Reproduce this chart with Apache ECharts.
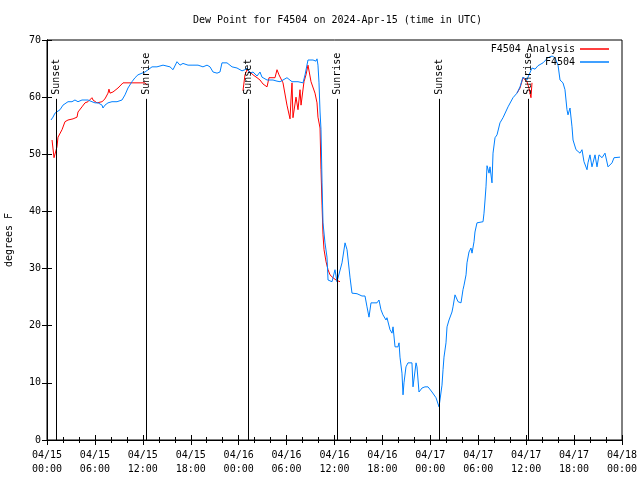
<!DOCTYPE html>
<html>
<head>
<meta charset="utf-8">
<script src="https://cdn.jsdelivr.net/npm/echarts@6/dist/echarts.min.js"></script>
<style>html,body{margin:0;padding:0;background:#fff}#c{width:640px;height:480px}</style>
</head>
<body>
<div id="c"></div>
<script>
// Hours after 2024-04-15 00:00 UTC, dew point in degrees F
const blueHours = [0.50,0.75,1.0,1.25,1.63,2.0,2.63,3.13,3.5,3.88,4.38,4.76,5.13,5.63,6.01,6.39,6.89,7.01,7.26,7.64,8.14,8.77,9.39,9.77,10.14,10.64,11.02,11.39,11.9,12.27,13.15,13.77,14.53,15.4,15.78,16.28,16.65,17.03,17.66,18.28,18.91,19.53,20.04,20.41,20.79,21.29,21.66,21.91,22.54,23.17,23.79,24.42,24.79,25.05,25.42,25.8,26.3,26.67,26.92,27.55,28.3,28.8,29.18,30.05,30.68,31.43,32.06,32.31,32.68,33.31,33.68,33.81,33.93,34.06,34.19,34.31,34.44,34.56,34.81,35.06,35.19,35.69,36.06,36.31,36.44,36.94,37.32,37.57,37.94,38.19,38.82,39.44,39.82,40.07,40.32,40.57,41.32,41.57,41.82,42.07,42.45,42.57,42.95,43.2,43.33,43.58,43.95,44.08,44.2,44.45,44.58,44.7,44.95,45.2,45.7,45.83,46.21,46.33,46.58,46.96,47.33,47.71,48.21,48.71,49.09,49.21,49.46,49.59,49.71,49.96,50.09,50.34,50.71,50.84,51.09,51.47,51.84,52.09,52.22,52.47,52.59,52.84,53.09,53.22,53.47,53.59,53.84,54.6,54.72,54.85,54.97,55.1,55.35,55.47,55.72,55.85,56.1,56.35,56.72,57.1,57.73,58.35,58.85,59.23,59.6,60.1,60.23,60.73,61.11,61.48,62.11,62.73,63.24,63.61,63.99,64.24,64.61,64.86,65.11,65.24,65.49,65.74,65.87,66.24,66.74,66.99,67.24,67.62,67.74,67.99,68.24,68.37,68.62,68.87,69.12,69.5,69.87,70.25,70.75,71.0,71.75];
const blueDew = [56.0,56.5,57.2,57.4,57.8,58.6,59.2,59.2,59.5,59.2,59.5,59.5,59.5,59.2,59.0,59.0,58.6,58.1,58.6,59.0,59.2,59.2,59.5,60.4,61.6,62.7,63.4,63.9,64.2,64.4,65.3,65.3,65.6,65.3,64.8,66.2,65.6,65.9,65.6,65.6,65.6,65.3,65.6,65.3,64.4,64.2,64.4,66.0,66.0,65.3,65.1,64.6,64.8,65.1,64.2,64.4,63.7,64.4,63.5,63.0,63.0,62.8,62.7,63.4,62.7,62.7,62.5,63.9,66.5,66.5,66.3,66.7,65.6,62.5,57.4,54.3,45.0,38.0,34.5,32.0,28.0,27.7,29.8,27.7,27.7,31.0,34.5,33.3,28.5,25.7,25.6,25.2,25.2,23.3,21.5,24.0,24.0,24.5,22.8,21.9,21.0,21.4,19.3,18.7,19.8,16.3,16.3,17.0,14.5,11.7,7.9,10.0,12.8,13.5,13.5,9.3,13.5,12.8,8.4,9.1,9.3,9.3,8.4,7.4,5.8,5.8,9.6,12.3,14.5,17.0,19.8,21.0,22.4,23.3,25.4,24.2,24.0,26.3,27.1,28.9,31.0,32.9,33.6,32.7,34.7,36.4,38.0,38.2,39.7,42.0,44.3,48.0,46.7,47.8,45.0,50.2,52.9,53.4,55.5,56.4,58.3,59.9,60.7,61.8,63.5,63.0,63.5,65.1,64.9,65.5,66.0,66.9,67.2,66.9,65.6,63.0,62.5,61.3,57.8,56.9,58.1,54.8,52.5,50.8,50.2,50.8,48.7,47.3,48.5,49.9,47.8,48.5,49.9,47.8,49.9,49.4,50.2,47.8,48.5,49.4,49.5];

const red1Hours = [0.63,0.75,0.88,1.0,1.25,1.38,1.88,2.25,2.63,3.26,3.76,3.88,4.38,4.76,5.13,5.63,5.76,6.26,6.89,7.26,7.64,7.76,7.89,8.26,8.89,9.52,10.64,11.65,12.27,12.52];
const red1Dew = [52.5,52.5,49.4,49.5,51.3,53.0,54.3,55.7,56.0,56.2,56.5,57.4,58.3,59.0,59.2,59.9,59.5,59.0,59.2,59.7,60.7,61.4,60.7,60.9,61.6,62.5,62.5,62.5,62.5,62.1];
const red2Hours = [24.54,24.79,25.05,25.42,25.8,26.3,26.67,27.05,27.55,27.8,28.55,28.8,29.05,29.55,30.05,30.43,30.55,30.68,30.8,31.18,31.43,31.68,31.81,32.18,32.43,32.68,33.06,33.56,33.81,33.93,34.19,34.31,34.44,34.56,34.69,34.94,35.19,35.44,35.81,36.19,36.69];
const red2Dew = [61.1,63.9,64.8,64.4,63.9,63.4,63.0,62.3,61.8,63.4,63.4,64.8,63.9,62.5,58.6,56.2,59.5,62.5,56.4,60.0,57.8,61.3,58.6,62.7,63.9,65.6,62.7,60.7,59.0,56.5,54.6,47.3,41.1,35.9,33.3,31.2,29.8,28.9,28.4,28.0,27.7];
const red3Hours = [58.85,59.23,59.6,60.1,60.35,60.6,60.73];
const red3Dew = [60.7,61.6,63.4,62.7,61.6,59.9,62.5];

const eventNames = ['Sunset','Sunrise','Sunset','Sunrise','Sunset','Sunrise'];
const eventHours = [1.09,12.36,25.13,36.31,49.13,60.27];
const eventLineTop = 59.7;

const seriesBlueName = 'F4504';
const seriesRedName = 'F4504 Analysis';
const titleText = 'Dew Point for F4504 on 2024-Apr-15 (time in UTC)';
const yAxisName = 'degrees F';

const FONT = '"DejaVu Sans Mono", "Liberation Mono", monospace';
const zip = (a, b) => a.map((v, i) => [v, b[i]]);

function fmtTick(h) {
  const day = 15 + Math.floor(h / 24);
  const hr = h % 24;
  return '04/' + String(day).padStart(2, '0') + '\n' + String(hr).padStart(2, '0') + ':00';
}

const chart = echarts.init(document.getElementById('c'), null, {renderer: 'canvas'});

const xBase = {
  type: 'value', min: 0, max: 72, interval: 6,
  axisLine: {show: true, lineStyle: {color: '#000', width: 1}},
  axisTick: {show: true, inside: true, length: 5, lineStyle: {color: '#000'}},
  minorTick: {show: true, splitNumber: 3, length: 3, lineStyle: {color: '#000'}},
  splitLine: {show: false}
};
const yBase = {
  type: 'value', min: 0, max: 70, interval: 10,
  axisLine: {show: true, lineStyle: {color: '#000', width: 1}},
  axisTick: {show: true, inside: true, length: 5, lineStyle: {color: '#000'}},
  splitLine: {show: false}
};

const redStyle = {color: '#ff0000', width: 1};
function redSeries(h, v) {
  return {
    name: seriesRedName, type: 'line', data: zip(h, v), showSymbol: false, symbol: 'none',
    lineStyle: redStyle, itemStyle: {color: '#ff0000'}, z: 2
  };
}

const option = {
  animation: false,
  backgroundColor: '#fff',
  textStyle: {fontFamily: FONT},
  title: {
    text: titleText, left: 188, top: 10,
    textStyle: {fontFamily: FONT, fontSize: 10, fontWeight: 'normal', color: '#000'}
  },
  legend: [
    {data: [seriesRedName], right: 31, top: 44, itemWidth: 29, itemHeight: 1.5, icon: 'rect', align: 'right',
     textStyle: {fontFamily: FONT, fontSize: 10, color: '#000'}, itemGap: 0, padding: 0, selectedMode: false},
    {data: [seriesBlueName], right: 31, top: 57, itemWidth: 29, itemHeight: 1.5, icon: 'rect', align: 'right',
     textStyle: {fontFamily: FONT, fontSize: 10, color: '#000'}, itemGap: 0, padding: 0, selectedMode: false}
  ],
  grid: {left: 47, right: 18, top: 40, bottom: 40, containLabel: false, outerBoundsMode: 'none',
         show: true, borderColor: '#000', borderWidth: 1, backgroundColor: 'transparent'},
  xAxis: [
    Object.assign({}, xBase, {
      position: 'bottom',
      axisLabel: {show: true, margin: 8, color: '#000', fontFamily: FONT, fontSize: 10, lineHeight: 14,
        formatter: fmtTick, showMinLabel: true, showMaxLabel: true}
    }),
    Object.assign({}, xBase, {position: 'top', axisLabel: {show: false}})
  ],
  yAxis: [
    Object.assign({}, yBase, {
      position: 'left',
      name: yAxisName, nameLocation: 'middle', nameGap: 33, nameRotate: 90,
      nameTextStyle: {fontFamily: FONT, fontSize: 10, color: '#000'},
      axisLabel: {show: true, margin: 6, color: '#000', fontFamily: FONT, fontSize: 10}
    }),
    Object.assign({}, yBase, {position: 'right', axisLabel: {show: false}})
  ],
  series: [
    redSeries(red1Hours, red1Dew),
    redSeries(red2Hours, red2Dew),
    redSeries(red3Hours, red3Dew),
    {
      name: seriesBlueName, type: 'line', data: zip(blueHours, blueDew), showSymbol: false, symbol: 'none',
      lineStyle: {color: '#0080ff', width: 1}, itemStyle: {color: '#0080ff'}, z: 3
    },
    {
      type: 'custom', z: 4, silent: true,
      data: eventHours.map(h => [h, eventLineTop]),
      renderItem: function (params, api) {
        const h = api.value(0), top = api.value(1);
        const p0 = api.coord([h, 0]);
        const p1 = api.coord([h, top]);
        const x = Math.round(p0[0]) + 0.5;
        return {
          type: 'group',
          children: [
            {type: 'line', shape: {x1: x, y1: p0[1], x2: x, y2: p1[1]}, style: {stroke: '#000', lineWidth: 1}},
            {type: 'text', x: x, y: p1[1] - 4, rotation: Math.PI / 2,
             style: {text: eventNames[params.dataIndex], align: 'left', verticalAlign: 'middle',
                     font: '10px ' + FONT, fill: '#000'}}
          ]
        };
      }
    }
  ]
};
chart.setOption(option);
</script>
</body>
</html>
